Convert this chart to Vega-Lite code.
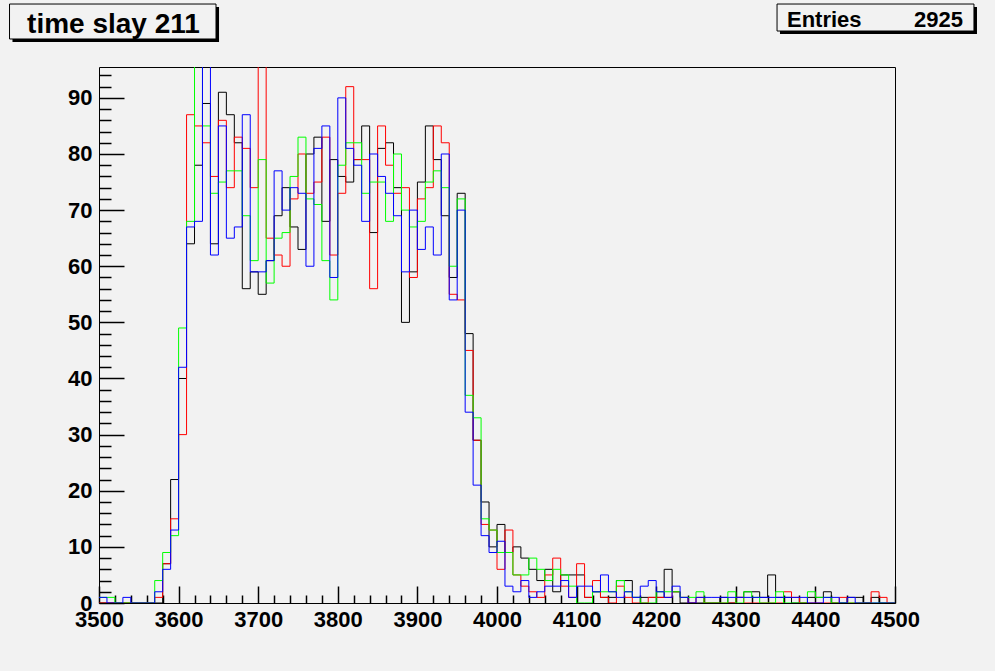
{
  "$schema": "https://vega.github.io/schema/vega-lite/v6.json",
  "width": 796,
  "height": 536,
  "autosize": {"type": "none"},
  "padding": {"left": 99, "top": 67, "right": 100, "bottom": 68},
  "background": "#f2f2f2",
  "config": {
    "view": {"stroke": "black", "strokeWidth": 1, "fill": "#f2f2f2"},
    "axis": {"grid": false, "domain": false, "labelFont": "Liberation Sans", "labelFontWeight": "bold", "labelFontSize": 22, "labelColor": "black", "tickColor": "black", "tickWidth": 1, "title": null, "labelOverlap": false, "zindex": 1}
  },
  "resolve": {"axis": {"x": "independent", "y": "independent"}},
  "layer": [
    {
      "data": {"values": [
        {"x":3500,"k":0,"r":0,"g":1,"b":1},{"x":3510,"k":0,"r":0,"g":1,"b":0},{"x":3520,"k":0,"r":0,"g":0,"b":0},{"x":3530,"k":0,"r":0,"g":0,"b":1},{"x":3540,"k":0,"r":0,"g":0,"b":0},
        {"x":3550,"k":0,"r":0,"g":0,"b":0},{"x":3560,"k":0,"r":0,"g":0,"b":0},{"x":3570,"k":0,"r":1,"g":4,"b":2},{"x":3580,"k":7,"r":7,"g":9,"b":6},{"x":3590,"k":22,"r":15,"g":12,"b":13},
        {"x":3600,"k":40,"r":30,"g":49,"b":42},{"x":3610,"k":64,"r":87,"g":68,"b":67},{"x":3620,"k":78,"r":85,"g":98,"b":68},{"x":3630,"k":89,"r":82,"g":85,"b":98},{"x":3640,"k":64,"r":76,"g":73,"b":62},
        {"x":3650,"k":91,"r":86,"g":75,"b":85},{"x":3660,"k":87,"r":74,"g":77,"b":65},{"x":3670,"k":82,"r":83,"g":77,"b":67},{"x":3680,"k":56,"r":81,"g":69,"b":87},{"x":3690,"k":59,"r":74,"g":61,"b":59},
        {"x":3700,"k":55,"r":98,"g":79,"b":59},{"x":3710,"k":61,"r":65,"g":57,"b":61},{"x":3720,"k":69,"r":62,"g":65,"b":77},{"x":3730,"k":74,"r":60,"g":66,"b":70},{"x":3740,"k":67,"r":72,"g":76,"b":74},
        {"x":3750,"k":63,"r":80,"g":83,"b":73},{"x":3760,"k":80,"r":73,"g":72,"b":60},{"x":3770,"k":83,"r":75,"g":71,"b":81},{"x":3780,"k":68,"r":83,"g":61,"b":85},{"x":3790,"k":79,"r":62,"g":54,"b":58},
        {"x":3800,"k":76,"r":73,"g":78,"b":90},{"x":3810,"k":75,"r":92,"g":82,"b":81},{"x":3820,"k":79,"r":79,"g":82,"b":78},{"x":3830,"k":85,"r":79,"g":73,"b":68},{"x":3840,"k":66,"r":56,"g":75,"b":80},
        {"x":3850,"k":81,"r":85,"g":75,"b":76},{"x":3860,"k":82,"r":78,"g":68,"b":73},{"x":3870,"k":74,"r":73,"g":80,"b":69},{"x":3880,"k":50,"r":74,"g":70,"b":59},{"x":3890,"k":59,"r":58,"g":67,"b":70},
        {"x":3900,"k":75,"r":72,"g":68,"b":63},{"x":3910,"k":85,"r":74,"g":75,"b":67},{"x":3920,"k":79,"r":85,"g":77,"b":62},{"x":3930,"k":69,"r":82,"g":74,"b":80},{"x":3940,"k":58,"r":55,"g":60,"b":54},
        {"x":3950,"k":73,"r":54,"g":72,"b":70},{"x":3960,"k":48,"r":45,"g":37,"b":34},{"x":3970,"k":29,"r":29,"g":33,"b":21},{"x":3980,"k":18,"r":14,"g":15,"b":12},{"x":3990,"k":10,"r":13,"g":13,"b":9},
        {"x":4000,"k":14,"r":6,"g":9,"b":11},{"x":4010,"k":9,"r":13,"g":9,"b":3},{"x":4020,"k":10,"r":5,"g":5,"b":2},{"x":4030,"k":8,"r":3,"g":5,"b":4},{"x":4040,"k":6,"r":2,"g":8,"b":1},
        {"x":4050,"k":4,"r":1,"g":6,"b":2},{"x":4060,"k":6,"r":5,"g":4,"b":3},{"x":4070,"k":2,"r":8,"g":6,"b":3},{"x":4080,"k":5,"r":3,"g":5,"b":4},{"x":4090,"k":5,"r":1,"g":3,"b":1},
        {"x":4100,"k":5,"r":7,"g":0,"b":3},{"x":4110,"k":1,"r":1,"g":0,"b":3},{"x":4120,"k":2,"r":4,"g":2,"b":2},{"x":4130,"k":1,"r":1,"g":2,"b":5},{"x":4140,"k":1,"r":0,"g":2,"b":2},
        {"x":4150,"k":4,"r":3,"g":4,"b":1},{"x":4160,"k":4,"r":1,"g":2,"b":2},{"x":4170,"k":1,"r":0,"g":1,"b":1},{"x":4180,"k":1,"r":0,"g":0,"b":3},{"x":4190,"k":1,"r":1,"g":0,"b":4},
        {"x":4200,"k":1,"r":1,"g":2,"b":2},{"x":4210,"k":6,"r":1,"g":2,"b":1},{"x":4220,"k":2,"r":2,"g":2,"b":3},{"x":4230,"k":0,"r":1,"g":1,"b":1},{"x":4240,"k":0,"r":0,"g":1,"b":0},
        {"x":4250,"k":0,"r":1,"g":2,"b":1},{"x":4260,"k":0,"r":0,"g":0,"b":1},{"x":4270,"k":0,"r":0,"g":0,"b":1},{"x":4280,"k":1,"r":0,"g":0,"b":1},{"x":4290,"k":0,"r":0,"g":2,"b":1},
        {"x":4300,"k":1,"r":1,"g":0,"b":1},{"x":4310,"k":2,"r":0,"g":2,"b":1},{"x":4320,"k":2,"r":0,"g":1,"b":1},{"x":4330,"k":1,"r":0,"g":0,"b":1},{"x":4340,"k":5,"r":0,"g":0,"b":1},
        {"x":4350,"k":1,"r":0,"g":2,"b":1},{"x":4360,"k":1,"r":2,"g":0,"b":1},{"x":4370,"k":0,"r":1,"g":0,"b":1},{"x":4380,"k":0,"r":0,"g":0,"b":1},{"x":4390,"k":1,"r":0,"g":2,"b":0},
        {"x":4400,"k":1,"r":0,"g":1,"b":0},{"x":4410,"k":2,"r":0,"g":1,"b":1},{"x":4420,"k":0,"r":0,"g":0,"b":1},{"x":4430,"k":0,"r":1,"g":0,"b":0},{"x":4440,"k":1,"r":0,"g":0,"b":1},
        {"x":4450,"k":1,"r":0,"g":0,"b":0},{"x":4460,"k":0,"r":0,"g":0,"b":0},{"x":4470,"k":1,"r":2,"g":0,"b":0},{"x":4480,"k":0,"r":1,"g":0,"b":0},{"x":4490,"k":0,"r":0,"g":0,"b":0},
        {"x":4500,"k":0,"r":0,"g":0,"b":0}
      ]},
      "transform": [{"fold": ["k", "r", "g", "b"], "as": ["series", "count"]}],
      "mark": {"type": "line", "interpolate": "step-after", "strokeWidth": 1, "clip": true},
      "encoding": {
        "x": {"field": "x", "type": "quantitative", "scale": {"domain": [3500, 4500], "nice": false, "zero": false},
              "axis": {"orient": "bottom", "values": [3500,3600,3700,3800,3900,4000,4100,4200,4300,4400,4500], "tickSize": -17, "tickColor": "black", "tickWidth": 1.5, "labelPadding": 23, "format": "d", "labelFlush": false}},
        "y": {"field": "count", "type": "quantitative", "scale": {"domain": [0, 95.5], "nice": false, "zero": false},
              "axis": {"orient": "left", "values": [0,10,20,30,40,50,60,70,80,90], "tickSize": -25, "tickColor": "black", "tickWidth": 1.5, "labelPadding": 32, "labelFlush": false}},
        "color": {"field": "series", "type": "nominal", "scale": {"domain": ["k", "r", "g", "b"], "range": ["#000000", "#ff0000", "#00ff00", "#0000ff"]}, "legend": null}
      }
    },
    {
      "data": {"values": [{}]},
      "mark": {"type": "rect", "fill": "black"},
      "encoding": {
        "x": {"datum": 3391.3, "type": "quantitative", "scale": {"domain": [3500, 4500], "nice": false, "zero": false},
              "axis": {"orient": "bottom", "values": [3520,3540,3560,3580,3620,3640,3660,3680,3720,3740,3760,3780,3820,3840,3860,3880,3920,3940,3960,3980,4020,4040,4060,4080,4120,4140,4160,4180,4220,4240,4260,4280,4320,4340,4360,4380,4420,4440,4460,4480], "labels": false, "tickSize": -8, "tickColor": "black", "tickWidth": 1.5}},
        "x2": {"datum": 3650.8},
        "y": {"datum": 106.19, "type": "quantitative", "scale": {"domain": [0, 95.5], "nice": false, "zero": false},
              "axis": {"orient": "left", "values": [2,4,6,8,12,14,16,18,22,24,26,28,32,34,36,38,42,44,46,48,52,54,56,58,62,64,66,68,72,74,76,78,82,84,86,88,92,94], "labels": false, "tickSize": -12, "tickColor": "black", "tickWidth": 1.5}},
        "y2": {"datum": 99.95}
      }
    },
    {
      "data": {"values": [{}]},
      "mark": {"type": "rect", "fill": "#f2f2f2", "stroke": "black", "strokeWidth": 1},
      "encoding": {
        "x": {"datum": 3387.6, "type": "quantitative", "scale": {"domain": [3500, 4500], "nice": false, "zero": false}, "axis": null},
        "x2": {"datum": 3647.0},
        "y": {"datum": 106.72, "type": "quantitative", "scale": {"domain": [0, 95.5], "nice": false, "zero": false}, "axis": null},
        "y2": {"datum": 100.49}
      }
    },
    {
      "data": {"values": [{}]},
      "mark": {"type": "text", "text": "time slay 211", "font": "Liberation Sans", "fontWeight": "bold", "fontSize": 28, "align": "center", "baseline": "alphabetic", "color": "black"},
      "encoding": {
        "x": {"datum": 3518.2, "type": "quantitative", "scale": {"domain": [3500, 4500], "nice": false, "zero": false}, "axis": null},
        "y": {"datum": 101.56, "type": "quantitative", "scale": {"domain": [0, 95.5], "nice": false, "zero": false}, "axis": null}
      }
    },
    {
      "data": {"values": [{}]},
      "mark": {"type": "rect", "fill": "black"},
      "encoding": {
        "x": {"datum": 4355.5, "type": "quantitative", "scale": {"domain": [3500, 4500], "nice": false, "zero": false}, "axis": null},
        "x2": {"datum": 4603.0},
        "y": {"datum": 106.19, "type": "quantitative", "scale": {"domain": [0, 95.5], "nice": false, "zero": false}, "axis": null},
        "y2": {"datum": 101.38}
      }
    },
    {
      "data": {"values": [{}]},
      "mark": {"type": "rect", "fill": "#f2f2f2", "stroke": "black", "strokeWidth": 1},
      "encoding": {
        "x": {"datum": 4351.8, "type": "quantitative", "scale": {"domain": [3500, 4500], "nice": false, "zero": false}, "axis": null},
        "x2": {"datum": 4599.2},
        "y": {"datum": 106.72, "type": "quantitative", "scale": {"domain": [0, 95.5], "nice": false, "zero": false}, "axis": null},
        "y2": {"datum": 101.91}
      }
    },
    {
      "data": {"values": [{}]},
      "mark": {"type": "text", "text": "Entries", "font": "Liberation Sans", "fontWeight": "bold", "fontSize": 22, "align": "left", "baseline": "alphabetic", "color": "black"},
      "encoding": {
        "x": {"datum": 4364.3, "type": "quantitative", "scale": {"domain": [3500, 4500], "nice": false, "zero": false}, "axis": null},
        "y": {"datum": 102.63, "type": "quantitative", "scale": {"domain": [0, 95.5], "nice": false, "zero": false}, "axis": null}
      }
    },
    {
      "data": {"values": [{}]},
      "mark": {"type": "text", "text": "2925", "font": "Liberation Sans", "fontWeight": "bold", "fontSize": 22, "align": "right", "baseline": "alphabetic", "color": "black"},
      "encoding": {
        "x": {"datum": 4585.4, "type": "quantitative", "scale": {"domain": [3500, 4500], "nice": false, "zero": false}, "axis": null},
        "y": {"datum": 102.63, "type": "quantitative", "scale": {"domain": [0, 95.5], "nice": false, "zero": false}, "axis": null}
      }
    }
  ]
}
